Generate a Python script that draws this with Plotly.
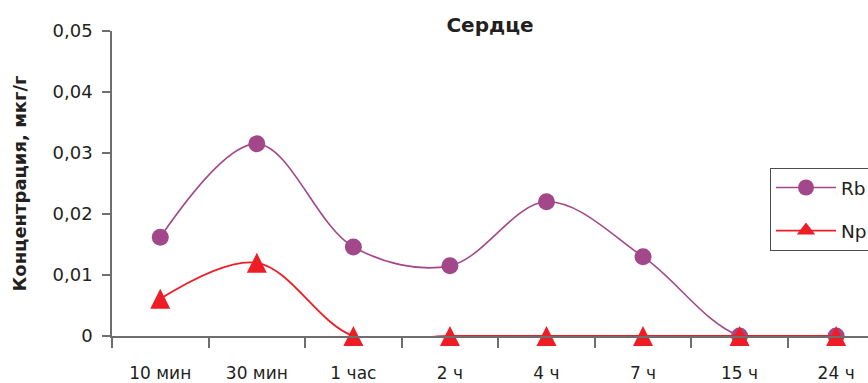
import plotly.graph_objects as go

# Time points after administration
categories = ["10 мин", "30 мин", "1 час", "2 ч", "4 ч", "7 ч", "15 ч", "24 ч"]

# Concentration in heart tissue, µg/g
rb_values = [0.0162, 0.0315, 0.0146, 0.0115, 0.0220, 0.0130, 0.0, 0.0]
np_values = [0.0061, 0.0120, 0.0, 0.0, 0.0, 0.0, 0.0, 0.0]

y_ticks = [0, 0.01, 0.02, 0.03, 0.04, 0.05]
y_tick_labels = ["0", "0,01", "0,02", "0,03", "0,04", "0,05"]

RB_COLOR = "#A3478B"
NP_COLOR = "#EE1C25"
AXIS_COLOR = "#6E6E6E"
TEXT_COLOR = "#231F20"
FONT = "DejaVu Sans, sans-serif"
W, H = 868, 383
TRI_SIZE = 20  # triangle marker: width = height = TRI_SIZE px

np_line = dict(color=NP_COLOR, width=1.8, shape="spline", smoothing=1.0)

fig = go.Figure()
fig.add_trace(go.Scatter(
    x=categories, y=rb_values, name="Rb", mode="lines+markers",
    line=dict(color=RB_COLOR, width=1.6, shape="spline", smoothing=1.0),
    marker=dict(symbol="circle", size=17, color=RB_COLOR),
    legendgroup="rb", cliponaxis=False,
))
# Upward triangle centred on the data point: an "arrow-down" glyph turned
# 180 degrees and pushed back by half its height.
fig.add_trace(go.Scatter(
    x=categories, y=np_values, name="Np", mode="lines+markers",
    line=np_line,
    marker=dict(symbol="arrow-down", size=TRI_SIZE, angle=180,
                standoff=TRI_SIZE / 2, color=NP_COLOR),
    legendgroup="np", cliponaxis=False, showlegend=False,
))
# Legend entry for Np with a plain triangle symbol (no data drawn)
fig.add_trace(go.Scatter(
    x=[None], y=[None], name="Np", mode="lines+markers",
    line=np_line,
    marker=dict(symbol="triangle-up", size=17, color=NP_COLOR),
    legendgroup="np", showlegend=True, hoverinfo="skip",
))

fig.update_layout(
    width=W, height=H,
    margin=dict(l=112, r=0, t=31, b=47, autoexpand=False),
    paper_bgcolor="white", plot_bgcolor="white",
    font=dict(family=FONT, size=17, color=TEXT_COLOR),
    title=dict(text="<b>Сердце</b>", x=0.5, xref="paper", xanchor="center",
               y=1 - 25 / H, yref="container", yanchor="middle",
               font=dict(size=20, family=FONT, color=TEXT_COLOR)),
    legend=dict(
        x=(770 - 112) / 756, y=(336 - 168) / 305, xanchor="left", yanchor="top",
        bordercolor="#4D4D4D", borderwidth=1, bgcolor="white",
        font=dict(size=18.5, family=FONT, color=TEXT_COLOR),
        itemwidth=60, tracegroupgap=16,
    ),
    showlegend=True,
)

fig.update_xaxes(
    type="category", range=[-0.5, 7.33],
    showline=True, linecolor=AXIS_COLOR, linewidth=1.5,
    ticks="outside", tickson="boundaries", ticklen=10, tickcolor=AXIS_COLOR, tickwidth=1.5,
    ticklabelstandoff=21,
    showgrid=False, zeroline=False,
    tickfont=dict(size=17, family=FONT, color=TEXT_COLOR),
)
fig.update_yaxes(
    range=[0, 0.05], tickvals=y_ticks, ticktext=y_tick_labels,
    showline=True, linecolor=AXIS_COLOR, linewidth=1.5,
    ticks="outside", ticklen=8, tickcolor=AXIS_COLOR, tickwidth=1.5,
    ticklabelstandoff=6,
    showgrid=False, zeroline=False,
    tickfont=dict(size=18, family=FONT, color=TEXT_COLOR),
    title=dict(text="<b>Концентрация, мкг/г</b>", standoff=21,
               font=dict(size=18, family=FONT, color=TEXT_COLOR)),
)

fig.write_html("out.html")
